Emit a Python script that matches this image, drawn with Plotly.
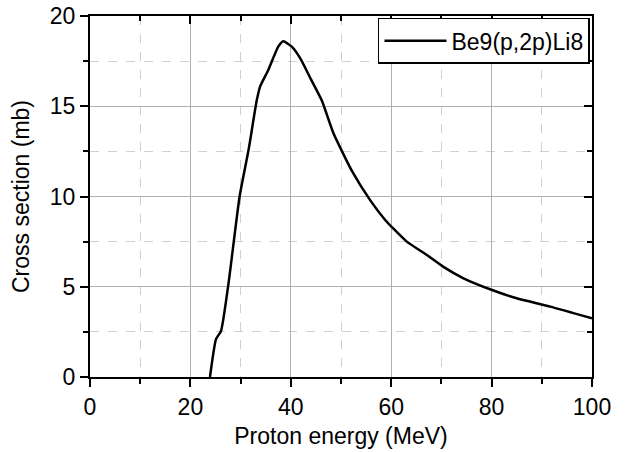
import plotly.graph_objects as go

# Be9(p,2p)Li8 excitation function
energy = [23.9, 25.1, 26.1, 27.6, 29.8, 31.6, 33.2, 33.9, 35.5, 37.5, 38.5,
          40.2, 42.0, 44.0, 46.2, 48.5, 52.2, 55.8, 58.8, 60.5, 63.1, 67.1,
          70.4, 74.4, 80.1, 85.0, 91.7, 100.0]
xsec = [0.0, 2.1, 2.55, 5.2, 10.0, 12.6, 15.3, 16.1, 17.0, 18.3, 18.6,
        18.3, 17.6, 16.5, 15.3, 13.5, 11.4, 9.8, 8.7, 8.2, 7.5, 6.76,
        6.1, 5.47, 4.82, 4.36, 3.9, 3.25]
series_name = "Be9(p,2p)Li8"

x_ticks = [0, 20, 40, 60, 80, 100]
y_ticks = [0, 5, 10, 15, 20]

font = "Liberation Sans, Arial, sans-serif"
tick_font = dict(family=font, size=23, color="black")
title_font = dict(family=font, size=23, color="black")

fig = go.Figure()
fig.add_trace(go.Scatter(x=energy, y=xsec, mode="lines", name=series_name,
                         line=dict(color="black", width=2.5, shape="spline", smoothing=0.5)))
# invisible copy so the top/right mirror axes get drawn
fig.add_trace(go.Scatter(x=energy, y=xsec, mode="lines", xaxis="x2", yaxis="y2",
                         line=dict(width=0), showlegend=False, hoverinfo="skip"))

fig.update_layout(
    width=626, height=452,
    margin=dict(l=90, r=34, t=16, b=75, autoexpand=False),
    paper_bgcolor="white", plot_bgcolor="white",
    font=dict(family=font, size=23, color="black"),
    showlegend=True,
    legend=dict(x=0.996, y=0.995, xanchor="right", yanchor="top",
                bordercolor="black", borderwidth=1.5, bgcolor="white",
                itemwidth=62,
                font=dict(family=font, size=23, color="black")),
    xaxis=dict(range=[0, 100], tickvals=x_ticks, showline=True, mirror=True,
               linecolor="black", linewidth=2, ticks="outside", ticklen=8,
               tickwidth=2, tickcolor="black", showgrid=True, tickfont=tick_font,
               ticklabeloverflow="allow",
               gridcolor="#b0b0b0", gridwidth=1, zeroline=False, automargin=False,
               title=dict(text="Proton energy (MeV)", font=title_font, standoff=9),
               minor=dict(dtick=10, ticks="outside", ticklen=5, tickwidth=2,
                          tickcolor="black", showgrid=True, gridcolor="#d0d0d0",
                          griddash="dash", gridwidth=1)),
    yaxis=dict(range=[0, 20], tickvals=y_ticks, showline=True, mirror=True,
               linecolor="black", linewidth=2, ticks="outside", ticklen=8,
               tickwidth=2, tickcolor="black", showgrid=True, tickfont=tick_font,
               ticklabeloverflow="allow",
               gridcolor="#b0b0b0", gridwidth=1, zeroline=False, automargin=False,
               title=dict(text="Cross section (mb)", font=title_font, standoff=14),
               minor=dict(dtick=2.5, ticks="outside", ticklen=5, tickwidth=2,
                          tickcolor="black", showgrid=True, gridcolor="#d0d0d0",
                          griddash="dash", gridwidth=1)),
    xaxis2=dict(overlaying="x", side="top", anchor="y2", range=[0, 100],
                tickvals=x_ticks, ticks="inside", ticklen=8, tickwidth=2,
                tickcolor="black", showticklabels=False, showgrid=False,
                zeroline=False, showline=False, automargin=False,
                minor=dict(dtick=10, ticks="inside", ticklen=5, tickwidth=2,
                           tickcolor="black", showgrid=False)),
    yaxis2=dict(overlaying="y", side="right", anchor="x2", range=[0, 20],
                tickvals=y_ticks, ticks="inside", ticklen=8, tickwidth=2,
                tickcolor="black", showticklabels=False, showgrid=False,
                zeroline=False, showline=False, automargin=False,
                minor=dict(dtick=2.5, ticks="inside", ticklen=5, tickwidth=2,
                           tickcolor="black", showgrid=False)),
)

# drop the browser's default body margin so the figure fills the window
fig.write_html("out.html", config={"displayModeBar": False},
               post_script="document.body.style.margin='0';")
